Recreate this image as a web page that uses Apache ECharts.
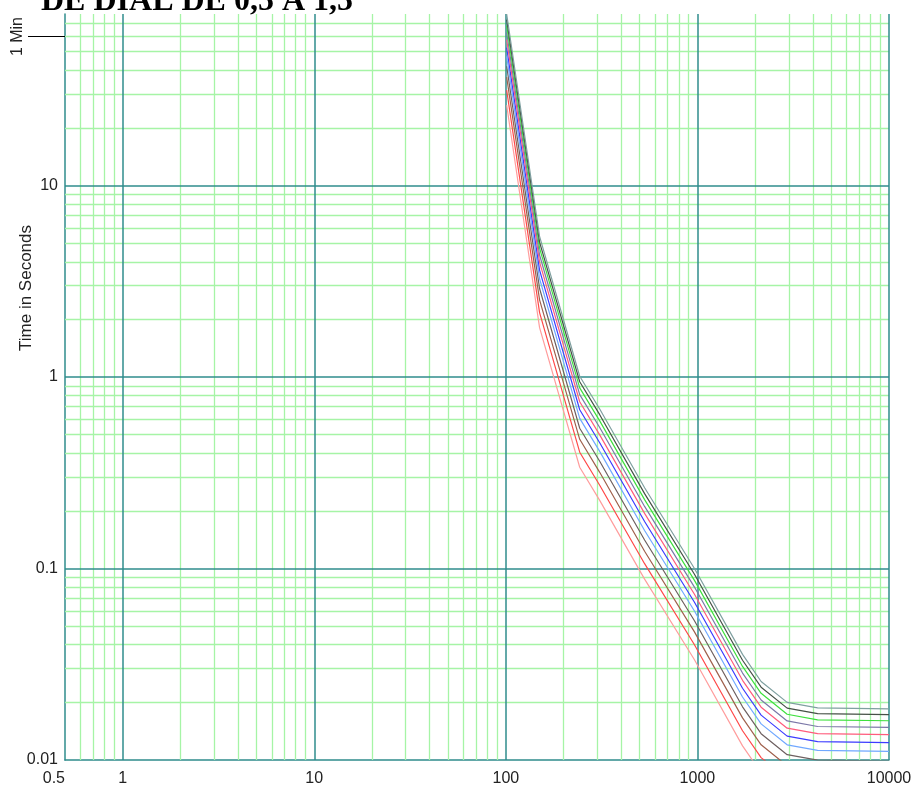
<!DOCTYPE html>
<html>
<head>
<meta charset="utf-8">
<script src="https://cdn.jsdelivr.net/npm/echarts@6/dist/echarts.min.js"></script>
<style>
  html, body { margin: 0; padding: 0; background: #fff; }
  #chart { width: 916px; height: 792px; }
</style>
</head>
<body>
<div id="chart"></div>
<script>
// Current (A) at each vertex of the time-current curves
const currents = [101, 150, 243, 309, 530, 965, 1720, 2150, 2940, 4240, 10000];

// Operating time (s) for each dial setting
const dial05 = [26.3, 1.81, 0.338, 0.227, 0.088, 0.0334, 0.01185, 0.00858, 0.00667, 0.00624, 0.00617];
const dial06 = [31.5, 2.17, 0.405, 0.272, 0.106, 0.0400, 0.01422, 0.01029, 0.00800, 0.00748, 0.00740];
const dial07 = [36.8, 2.53, 0.473, 0.318, 0.123, 0.0467, 0.01659, 0.01200, 0.00933, 0.00873, 0.00863];
const dial08 = [42.0, 2.90, 0.540, 0.363, 0.141, 0.0534, 0.01896, 0.01372, 0.01066, 0.00998, 0.00986];
const dial09 = [47.3, 3.26, 0.608, 0.409, 0.158, 0.0600, 0.02133, 0.01544, 0.01200, 0.01122, 0.01110];
const dial10 = [52.5, 3.62, 0.675, 0.454, 0.176, 0.0667, 0.02370, 0.01715, 0.01333, 0.01247, 0.01233];
const dial11 = [57.8, 3.98, 0.743, 0.499, 0.194, 0.0734, 0.02607, 0.01887, 0.01466, 0.01372, 0.01356];
const dial12 = [63.0, 4.34, 0.810, 0.545, 0.211, 0.0800, 0.02844, 0.02058, 0.01600, 0.01496, 0.01480];
const dial13 = [68.3, 4.71, 0.878, 0.590, 0.229, 0.0867, 0.03081, 0.02230, 0.01733, 0.01621, 0.01603];
const dial14 = [73.5, 5.07, 0.945, 0.636, 0.246, 0.0934, 0.03318, 0.02401, 0.01866, 0.01746, 0.01726];
const dial15 = [78.7, 5.43, 1.010, 0.681, 0.264, 0.1000, 0.03560, 0.02570, 0.02000, 0.01870, 0.01850];

const dialNames = ['0.5', '0.6', '0.7', '0.8', '0.9', '1.0', '1.1', '1.2', '1.3', '1.4', '1.5'];
const dialCurves = [dial05, dial06, dial07, dial08, dial09, dial10, dial11, dial12, dial13, dial14, dial15];
const curveColors = ['#ff9c9c', '#ff4848', '#a0604c', '#6e6060', '#70a8ff', '#3c3cff',
                     '#ff5c7c', '#7c78a8', '#3ee03e', '#465046', '#7fa0a0'];

// Axis labels and grid positions
const xLabelValues = [0.5, 1, 10, 100, 1000, 10000];
const yLabelValues = [0.01, 0.1, 1, 10];
const minuteValue = [60];
const xMajorGrid = [1, 10, 100, 1000, 10000];
const xMinorGrid = [0.6, 0.7, 0.8, 0.9,
  2, 3, 4, 5, 6, 7, 8, 9,
  20, 30, 40, 50, 60, 70, 80, 90,
  200, 300, 400, 500, 600, 700, 800, 900,
  2000, 3000, 4000, 5000, 6000, 7000, 8000, 9000];
const yMajorGrid = [0.1, 1, 10];
const yMinorGrid = [0.02, 0.03, 0.04, 0.05, 0.06, 0.07, 0.08, 0.09,
  0.2, 0.3, 0.4, 0.5, 0.6, 0.7, 0.8, 0.9,
  2, 3, 4, 5, 6, 7, 8, 9,
  20, 30, 40, 50, 60, 70];

const TEAL = '#2f8c8c';
const MINOR = '#a6f4a6';
const FONT = '"Liberation Sans", Arial, Helvetica, sans-serif';

const gridLines = [];
xMinorGrid.forEach(v => gridLines.push({ xAxis: v, lineStyle: { color: MINOR, width: 1.3, type: 'solid' } }));
yMinorGrid.forEach(v => gridLines.push({ yAxis: v, lineStyle: { color: MINOR, width: 1.3, type: 'solid' } }));
xMajorGrid.forEach(v => gridLines.push({ xAxis: v, lineStyle: { color: TEAL, width: 1.5, type: 'solid' } }));
yMajorGrid.forEach(v => gridLines.push({ yAxis: v, lineStyle: { color: TEAL, width: 1.5, type: 'solid' } }));

const series = [{
  name: 'grid',
  type: 'line',
  data: [[1, 1]],
  showSymbol: false,
  silent: true,
  lineStyle: { opacity: 0 },
  z: 1,
  markLine: {
    silent: true,
    animation: false,
    symbol: ['none', 'none'],
    label: { show: false },
    lineStyle: { type: 'solid' },
    emphasis: { disabled: true },
    z: 1,
    data: gridLines
  }
}];

dialCurves.forEach((vals, i) => {
  series.push({
    name: dialNames[i],
    type: 'line',
    data: currents.map((c, k) => [c, vals[k]]),
    showSymbol: false,
    clip: true,
    z: 3,
    lineStyle: { color: curveColors[i], width: 1.2 }
  });
});

const chart = echarts.init(document.getElementById('chart'), null, { renderer: 'canvas' });
chart.setOption({
  animation: false,
  backgroundColor: '#fff',
  title: {
    text: 'DE DIAL DE 0,5 A 1,5',
    left: 41,
    top: -14,
    padding: 0,
    textStyle: { fontFamily: '"Liberation Serif", "Times New Roman", serif', fontWeight: 'bold', fontSize: 32, color: '#000' }
  },
  grid: { left: 65, right: 27, top: 14, bottom: 32, containLabel: false },
  xAxis: {
    type: 'log',
    logBase: 10,
    min: 0.5,
    max: 10000,
    axisLine: { show: true, lineStyle: { color: TEAL, width: 1.5 } },
    axisTick: { show: false },
    splitLine: { show: false },
    minorSplitLine: { show: false },
    axisLabel: {
      customValues: xLabelValues,
      alignMinLabel: 'right',
      margin: 11,
      color: '#222',
      fontFamily: FONT,
      fontSize: 16,
      formatter: v => String(v)
    }
  },
  yAxis: [{
    type: 'log',
    logBase: 10,
    min: 0.01,
    max: 78.7,
    axisLine: { show: true, lineStyle: { color: TEAL, width: 1.5 } },
    axisTick: { show: false },
    splitLine: { show: false },
    axisLabel: {
      customValues: yLabelValues,
      margin: 7,
      color: '#222',
      fontFamily: FONT,
      fontSize: 16,
      formatter: v => String(v)
    }
  }, {
    type: 'log',
    logBase: 10,
    min: 0.01,
    max: 78.7,
    position: 'left',
    axisLine: { show: false },
    splitLine: { show: false },
    axisTick: { show: true, customValues: minuteValue, length: 37, lineStyle: { color: '#000', width: 1 } },
    axisLabel: {
      customValues: minuteValue,
      rotate: 90,
      margin: 39,
      color: '#222',
      fontFamily: FONT,
      fontSize: 16,
      formatter: () => '1 Min'
    }
  }],
  graphic: [{
    type: 'text',
    x: 26,
    y: 288,
    rotation: Math.PI / 2,
    style: {
      text: 'Time in Seconds',
      fill: '#222',
      font: '17px ' + FONT,
      textAlign: 'center',
      textVerticalAlign: 'middle'
    }
  }],
  series: series
});
</script>
</body>
</html>
